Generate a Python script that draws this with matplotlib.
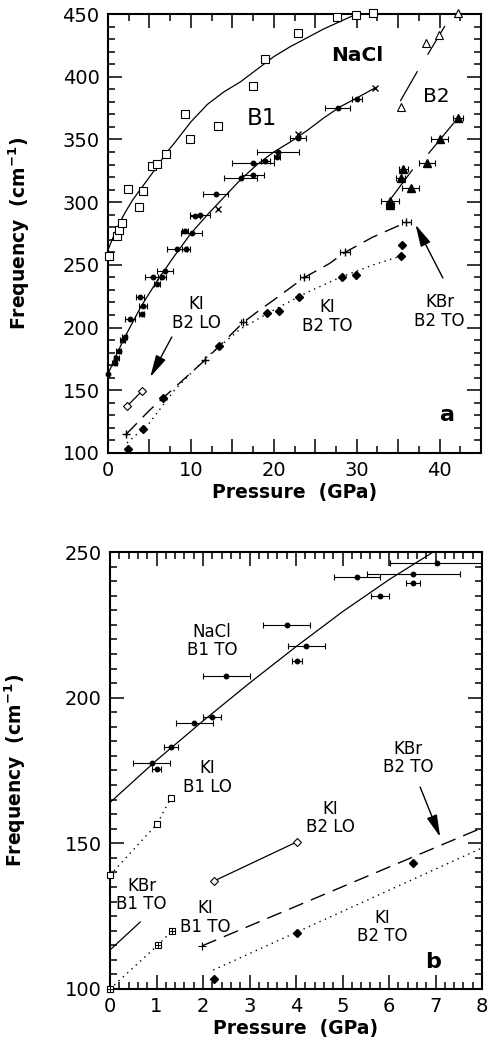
import matplotlib
matplotlib.use("Agg")
import matplotlib.pyplot as plt
from matplotlib.ticker import MultipleLocator, FuncFormatter

plt.rcParams['font.family'] = ['DejaVu Sans']
plt.rcParams['mathtext.fontset'] = 'dejavusans'

# ---------------- panel a data ----------------
# NaCl B1 (open squares, high-frequency branch)
a_nacl_sq_p = [0.1, 1.1, 1.3, 1.7, 2.4, 3.7, 4.2, 5.3, 5.9, 7.0, 9.3, 9.9, 13.3, 17.5, 18.9, 22.9, 27.6, 29.9, 32.0]
a_nacl_sq_f = [257, 273, 277.8, 283.3, 310.4, 296.1, 308.9, 328.8, 330.4, 338.4, 370.3, 350.3, 360.7, 392.6, 414, 434.8, 447.6, 449, 451]
a_nacl_sq_fit_p = [0, 1, 2, 3, 4, 5, 6, 7, 8, 10, 12, 14, 16, 18, 20, 22, 24, 26, 28, 30]
a_nacl_sq_fit_f = [262, 278, 291, 302, 311, 320, 329, 339, 347, 364, 378, 388, 396, 406, 416, 424, 431, 438, 444, 450]

# NaCl B1 TO (filled circles with pressure error bars)
a_b1to_p = [0.0, 0.8, 1.0, 1.3, 1.8, 2.0, 2.6, 3.9, 4.1, 4.2, 5.4, 5.9, 6.5, 6.9, 8.3, 9.4, 9.3, 10.1,
            10.5, 11.1, 13.0, 16.0, 17.5, 17.5, 19.0, 20.4, 20.5, 22.9, 27.7, 30.0]
a_b1to_f = [163, 172, 175.5, 181, 190, 192.4, 206.6, 224.4, 211, 217, 240, 235, 240, 245, 263, 262.5, 277, 275.4,
            289, 290, 306.5, 319.6, 331, 322, 333, 336, 340, 351, 375, 382]
a_b1to_err = [0, 0.3, 0.3, 0.3, 0.3, 0.3, 0.6, 0.5, 0.3, 0.5, 0.9, 0.4, 0.5, 1.0, 1.2, 0.5, 0.4, 1.3,
              0.6, 1.2, 1.5, 2.0, 2.5, 1.3, 0.5, 0.4, 2.5, 1.0, 1.5, 0.6]
a_b1to_x_p = [13.3, 22.9, 32.2]
a_b1to_x_f = [294.5, 354.5, 391]
a_b1to_fit_p = [0, 1, 2, 4, 6, 8, 10, 12, 14, 16, 18, 20, 22, 24, 26, 28, 30, 32.2]
a_b1to_fit_f = [163, 178, 192, 217, 238, 257, 275, 290, 304, 318, 330, 340, 348, 357, 367, 376, 383, 391]

# NaCl B2 (open and filled triangles)
a_b2_open_p = [35.3, 38.4, 39.9, 42.2]
a_b2_open_f = [375.8, 426.9, 433, 451]
a_b2_open_fit1_p = [35.3, 37.3]
a_b2_open_fit1_f = [381, 404]
a_b2_open_fit2_p = [38.6, 40.6]
a_b2_open_fit2_f = [418, 440]
a_b2_fill_p = [34.0, 34.0, 35.3, 35.6, 36.5, 38.5, 40.0, 42.2]
a_b2_fill_f = [301, 298, 319.5, 326.4, 311, 331, 350, 367]
a_b2_fill_err = [1.1, 0.5, 0.5, 0.55, 1.0, 1.0, 1.0, 0.6]
a_b2_fill_fit1_p = [33.7, 36.7]
a_b2_fill_fit1_f = [299, 325.6]
a_b2_fill_fit2_p = [38.7, 41.7]
a_b2_fill_fit2_f = [339, 363]

# KBr B2 TO (crosses, dashed)
a_kbr_p = [2.2, 11.7, 16.3, 23.7, 28.6, 36.0]
a_kbr_f = [115, 174, 204.5, 240, 260, 284]
a_kbr_err = [0, 0, 0.3, 0.5, 0.6, 0.5]
a_kbr_fit_p = [2.2, 5, 8, 11.7, 16.3, 18.3, 20, 23.7, 26.7, 28.6, 31.9, 36]
a_kbr_fit_f = [115, 134, 152, 174, 204, 214, 222, 240, 251, 260, 272, 284]

# KI B2 TO (filled diamonds, dotted)
a_ki_to_p = [2.4, 4.2, 6.6, 13.4, 19.2, 20.6, 23.0, 28.2, 29.9, 35.3, 35.5]
a_ki_to_f = [103, 119, 143.7, 185, 211.5, 213, 224, 240, 241.8, 257, 266]
a_ki_to_fit_p = [2.3, 5, 8, 12, 16, 20, 24, 28, 32, 35.3]
a_ki_to_fit_f = [108, 124, 150, 177, 199, 214, 228, 240, 250, 257]

# KI B2 LO (open diamonds, solid)
a_ki_lo_p = [2.3, 4.1]
a_ki_lo_f = [137.4, 149.4]

# ---------------- panel b data ----------------
b_b1to_p = [0.9, 1.0, 1.31, 1.81, 2.19, 2.5, 3.8, 4.02, 4.22, 5.31, 5.81, 6.52, 6.52, 7.03]
b_b1to_f = [177.6, 175.5, 183.1, 191.3, 193.4, 207.4, 225, 212.6, 217.7, 241.4, 234.9, 242.4, 239.4, 246.2]
b_b1to_err = [0.4, 0.1, 0.15, 0.4, 0.2, 0.5, 0.5, 0.1, 0.4, 0.5, 0.2, 1.0, 0.15, 1.0]
b_b1to_fit_p = [0, 1, 2, 3, 4, 5, 6, 7, 7.3]
b_b1to_fit_f = [164, 178.5, 192, 205, 217.5, 229.5, 240.5, 250.5, 253]

b_ki_b1lo_p = [0.0, 1.01, 1.31]
b_ki_b1lo_f = [139.1, 156.6, 165.6]
b_ki_b1to_p = [0.0, 1.03, 1.33]
b_ki_b1to_f = [100, 115.1, 119.9]
b_kbr_b1to_p = [0.0, 0.65]
b_kbr_b1to_f = [113.4, 123]

b_kbr_b2to_p = [1.98, 8.0]
b_kbr_b2to_f = [114.8, 155.3]
b_ki_b2lo_p = [2.24, 4.02]
b_ki_b2lo_f = [137.1, 150.5]
b_ki_b2to_p = [2.24, 4.02, 6.52]
b_ki_b2to_f = [103.5, 119.2, 143.3]
b_ki_b2to_fit_p = [2.22, 8.0]
b_ki_b2to_fit_f = [106.5, 148.4]

# ---------------- figure ----------------
W, H = 491, 1049
fig = plt.figure(figsize=(W / 100, H / 100), dpi=100)
ax1 = fig.add_axes([108 / W, 1 - 453 / H, 373 / W, 439 / H])
ax2 = fig.add_axes([110 / W, 1 - 989 / H, 372 / W, 437 / H])

DASH = (0, (11, 6))
DOT = (0, (1, 3.2))
lab_font = dict(fontsize=13.5, fontweight='bold')
ann = dict(fontsize=12, ha='center', va='center', linespacing=1.05)
eb = dict(fmt='o', color='k', ms=3.2, elinewidth=0.8, capsize=2.5, capthick=0.8, clip_on=False, zorder=3)


def style(ax, xmaj, xmin, ymaj, ymin, xlab_every=None):
    ax.xaxis.set_major_locator(MultipleLocator(xmaj))
    ax.xaxis.set_minor_locator(MultipleLocator(xmin))
    ax.yaxis.set_major_locator(MultipleLocator(ymaj))
    ax.yaxis.set_minor_locator(MultipleLocator(ymin))
    if xlab_every:
        ax.xaxis.set_major_formatter(FuncFormatter(
            lambda v, p: '%d' % v if abs(v / xlab_every - round(v / xlab_every)) < 1e-6 else ''))
    ax.tick_params(which='both', direction='in', top=True, right=True, width=1.1, labelsize=14)
    ax.tick_params(which='major', length=10, pad=6)
    ax.tick_params(which='minor', length=5)
    for s in ax.spines.values():
        s.set_linewidth(1.5)


arr = dict(arrowstyle='-|>,head_length=0.9,head_width=0.22', color='k', lw=1.0, mutation_scale=15,
           shrinkA=0, shrinkB=0)

# ---- panel a ----
ax = ax1
ax.set_xlim(0, 45)
ax.set_ylim(100, 450)
style(ax, 5, 2.5, 50, 10, xlab_every=10)

ax.plot(a_nacl_sq_fit_p, a_nacl_sq_fit_f, 'k-', lw=0.9)
ax.plot(a_nacl_sq_p, a_nacl_sq_f, 's', mfc='white', mec='k', ms=5.5, mew=0.8, clip_on=False, zorder=3)

ax.plot(a_b1to_fit_p, a_b1to_fit_f, 'k-', lw=0.9)
ax.errorbar(a_b1to_p, a_b1to_f, xerr=a_b1to_err, **eb)
ax.plot(a_b1to_x_p, a_b1to_x_f, 'kx', ms=4, mew=1.0, zorder=3)

ax.plot(a_b2_open_fit1_p, a_b2_open_fit1_f, 'k-', lw=0.9)
ax.plot(a_b2_open_fit2_p, a_b2_open_fit2_f, 'k-', lw=0.9)
ax.plot(a_b2_open_p, a_b2_open_f, '^', mfc='white', mec='k', ms=6, mew=0.8, clip_on=False, zorder=3)
ax.plot(a_b2_fill_fit1_p, a_b2_fill_fit1_f, 'k-', lw=0.9)
ax.plot(a_b2_fill_fit2_p, a_b2_fill_fit2_f, 'k-', lw=0.9)
ax.errorbar(a_b2_fill_p, a_b2_fill_f, xerr=a_b2_fill_err,
            **{**eb, 'fmt': '^', 'ms': 5.5})

ax.plot(a_kbr_fit_p, a_kbr_fit_f, color='k', lw=1.0, ls=DASH)
ax.errorbar(a_kbr_p, a_kbr_f, xerr=a_kbr_err, **{**eb, 'fmt': '+', 'ms': 6})

ax.plot(a_ki_to_fit_p, a_ki_to_fit_f, color='k', lw=1.0, ls=DOT)
ax.plot(a_ki_to_p, a_ki_to_f, 'kD', ms=4, zorder=3)

ax.plot(a_ki_lo_p, a_ki_lo_f, 'k-', lw=0.9)
ax.plot(a_ki_lo_p, a_ki_lo_f, 'D', mfc='white', mec='k', ms=4, mew=0.8, zorder=3)

ax.text(30.1, 417, 'NaCl', fontsize=14.5, fontweight='bold', ha='center', va='center')
ax.text(18.6, 367, 'B1', fontsize=16.5, ha='center', va='center')
ax.text(39.6, 384, 'B2', fontsize=14.5, ha='center', va='center')
ax.text(10.7, 211, 'KI\nB2 LO', **ann)
ax.text(26.5, 209, 'KI\nB2 TO', **ann)
ax.text(40.0, 213, 'KBr\nB2 TO', **ann)
ax.text(41.0, 130, 'a', fontsize=16, fontweight='bold', ha='center', va='center')
ax.annotate('', xy=(5.1, 160.6), xytext=(7.7, 192.5), arrowprops=arr)
ax.annotate('', xy=(37.1, 282), xytext=(40.4, 239.5), arrowprops=arr)

ax.set_xlabel('Pressure  (GPa)', labelpad=2, **lab_font)
ax.set_ylabel(r'Frequency  (cm$^{\mathbf{-1}}$)', **lab_font)
ax.yaxis.set_label_coords(-0.205, 0.5)

# ---- panel b ----
ax = ax2
ax.set_xlim(0, 8)
ax.set_ylim(100, 250)
style(ax, 1, 0.2, 50, 5)

ax.plot(b_b1to_fit_p, b_b1to_fit_f, 'k-', lw=0.9)
ax.errorbar(b_b1to_p, b_b1to_f, xerr=b_b1to_err, **{**eb, 'clip_on': True})

ax.plot(b_ki_b1lo_p, b_ki_b1lo_f, color='k', lw=1.0, ls=DOT)
ax.plot(b_ki_b1lo_p, b_ki_b1lo_f, 's', mfc='white', mec='k', ms=5, mew=0.8, clip_on=False, zorder=3)
ax.plot(b_ki_b1to_p, b_ki_b1to_f, color='k', lw=1.0, ls=DOT)
ax.plot(b_ki_b1to_p, b_ki_b1to_f, 's', mfc='white', mec='k', ms=5, mew=0.8, clip_on=False, zorder=3)
ax.plot(b_ki_b1to_p, b_ki_b1to_f, 'k+', ms=5, mew=0.7, clip_on=False, zorder=4)
ax.plot(b_kbr_b1to_p, b_kbr_b1to_f, 'k-', lw=0.9)

ax.plot(b_kbr_b2to_p, b_kbr_b2to_f, color='k', lw=1.0, ls=DASH)
ax.plot(b_kbr_b2to_p[:1], b_kbr_b2to_f[:1], 'k+', ms=6, mew=0.8)
ax.plot(b_ki_b2lo_p, b_ki_b2lo_f, 'k-', lw=0.9)
ax.plot(b_ki_b2lo_p, b_ki_b2lo_f, 'D', mfc='white', mec='k', ms=4, mew=0.8, zorder=3)
ax.plot(b_ki_b2to_fit_p, b_ki_b2to_fit_f, color='k', lw=1.0, ls=DOT)
ax.plot(b_ki_b2to_p, b_ki_b2to_f, 'kD', ms=4, clip_on=False, zorder=3)

ax.text(2.19, 219.5, 'NaCl\nB1 TO', **ann)
ax.text(2.1, 172.5, 'KI\nB1 LO', **ann)
ax.text(0.68, 132.3, 'KBr\nB1 TO', **ann)
ax.text(2.04, 124.5, 'KI\nB1 TO', **ann)
ax.text(4.73, 158.7, 'KI\nB2 LO', **ann)
ax.text(5.85, 121.3, 'KI\nB2 TO', **ann)
ax.text(6.41, 179.3, 'KBr\nB2 TO', **ann)
ax.text(6.95, 109.3, 'b', fontsize=16, fontweight='bold', ha='center', va='center')
ax.annotate('', xy=(7.1, 152.2), xytext=(6.67, 169.3), arrowprops=arr)

ax.set_xlabel('Pressure  (GPa)', labelpad=2, **lab_font)
ax.set_ylabel(r'Frequency  (cm$^{\mathbf{-1}}$)', **lab_font)
ax.yaxis.set_label_coords(-0.22, 0.5)

fig.savefig('out.png', dpi=100)
